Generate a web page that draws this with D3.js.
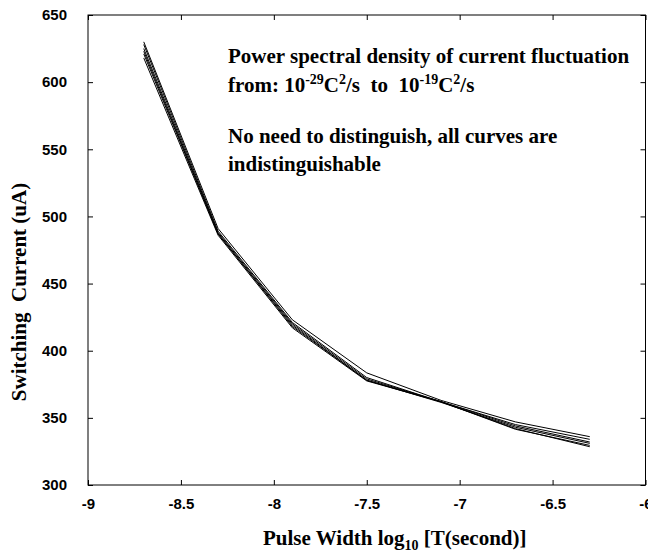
<!DOCTYPE html>
<html><head><meta charset="utf-8">
<script src="https://cdn.jsdelivr.net/npm/d3@7/dist/d3.min.js"></script>
<style>body{margin:0;background:#fff}svg{display:block}</style>
</head><body>
<svg id="c" width="648" height="553"></svg>
<script>
const xTicks = [-9, -8.5, -8, -7.5, -7, -6.5, -6];
const yTicks = [300, 350, 400, 450, 500, 550, 600, 650];
const pulseWidth = [-8.7, -8.3, -7.9, -7.5, -7.1, -6.7, -6.3];
const curve1 = [630, 491, 423, 383.5, 363, 347, 336];
const curve2 = [628, 489, 421, 380, 362, 345, 334];
const curve3 = [625, 488, 420, 379, 362, 344, 332];
const curve4 = [623, 487, 419, 378, 361.5, 343, 331];
const curve5 = [621, 487, 418, 378, 362, 341.5, 329.5];
const curve6 = [618, 486, 417, 377.5, 362, 342, 328.5];
const curves = [curve1, curve2, curve3, curve4, curve5, curve6];

const svg = d3.select("#c");
const L = 88, R = 645.5, T = 15, B = 485;
const x = d3.scaleLinear().domain([-9, -6]).range([L, R]);
const y = d3.scaleLinear().domain([300, 650]).range([B, T]);
const tickFmt = d => String(d);
const tickFont = "'Liberation Sans', Arial, sans-serif";
const serif = "'Liberation Serif', 'Times New Roman', serif";

// frame
svg.append("rect").attr("x", L).attr("y", T).attr("width", R - L).attr("height", B - T)
  .attr("fill", "none").attr("stroke", "#000").attr("stroke-width", 1);

const gx = svg.append("g").attr("transform", `translate(0,${B})`)
  .call(d3.axisBottom(x).tickValues(xTicks).tickFormat(tickFmt).tickSizeInner(-5).tickSizeOuter(0).tickPadding(13));
const gxt = svg.append("g").attr("transform", `translate(0,${T})`)
  .call(d3.axisTop(x).tickValues(xTicks).tickFormat("").tickSizeInner(-5).tickSizeOuter(0));
const gy = svg.append("g").attr("transform", `translate(${L},0)`)
  .call(d3.axisLeft(y).tickValues(yTicks).tickFormat(tickFmt).tickSizeInner(-5).tickSizeOuter(0).tickPadding(21));
const gyr = svg.append("g").attr("transform", `translate(${R},0)`)
  .call(d3.axisRight(y).tickValues(yTicks).tickFormat("").tickSizeInner(-5).tickSizeOuter(0));
[gx, gxt, gy, gyr].forEach(g => {
  g.select(".domain").remove();
  g.selectAll("line").attr("stroke", "#000").attr("stroke-width", 1);
  g.selectAll("text").attr("fill", "#000").style("font-family", tickFont)
    .style("font-weight", "bold").style("font-size", "15px");
});

// curves
const line = d3.line().x((d, i) => x(pulseWidth[i])).y(d => y(d));
svg.append("g").selectAll("path").data(curves).join("path")
  .attr("d", line).attr("fill", "none").attr("stroke", "#000").attr("stroke-width", 1);

// titles
const xt = svg.append("text").attr("x", 263).attr("y", 545).attr("fill", "#000")
  .style("font-family", serif).style("font-weight", "bold").style("font-size", "21px");
xt.append("tspan").text("Pulse Width log");
xt.append("tspan").attr("font-size", "14px").attr("dy", 5).text("10");
xt.append("tspan").attr("dy", -5).text(" [T(second)]");

svg.append("text").attr("transform", "translate(26,292) rotate(-90)").attr("text-anchor", "middle")
  .attr("fill", "#000").style("font-family", serif).style("font-weight", "bold").style("font-size", "21px")
  .style("white-space", "pre")
  .text("Switching  Current (uA)");

// annotation
const ann = svg.append("g").attr("fill", "#000").style("font-family", serif)
  .style("font-weight", "bold").style("font-size", "21px");
ann.append("text").attr("x", 228).attr("y", 63).text("Power spectral density of current fluctuation");
const l2 = ann.append("text").attr("x", 228).attr("y", 92).style("white-space", "pre");
l2.append("tspan").text("from: 10");
l2.append("tspan").attr("font-size", "14px").attr("dy", -8).text("-29");
l2.append("tspan").attr("dy", 8).text("C");
l2.append("tspan").attr("font-size", "14px").attr("dy", -8).text("2");
l2.append("tspan").attr("dy", 8).text("/s  to  10");
l2.append("tspan").attr("font-size", "14px").attr("dy", -8).text("-19");
l2.append("tspan").attr("dy", 8).text("C");
l2.append("tspan").attr("font-size", "14px").attr("dy", -8).text("2");
l2.append("tspan").attr("dy", 8).text("/s");
ann.append("text").attr("x", 228).attr("y", 143).text("No need to distinguish, all curves are");
ann.append("text").attr("x", 228).attr("y", 171).text("indistinguishable");
</script>
</body></html>
